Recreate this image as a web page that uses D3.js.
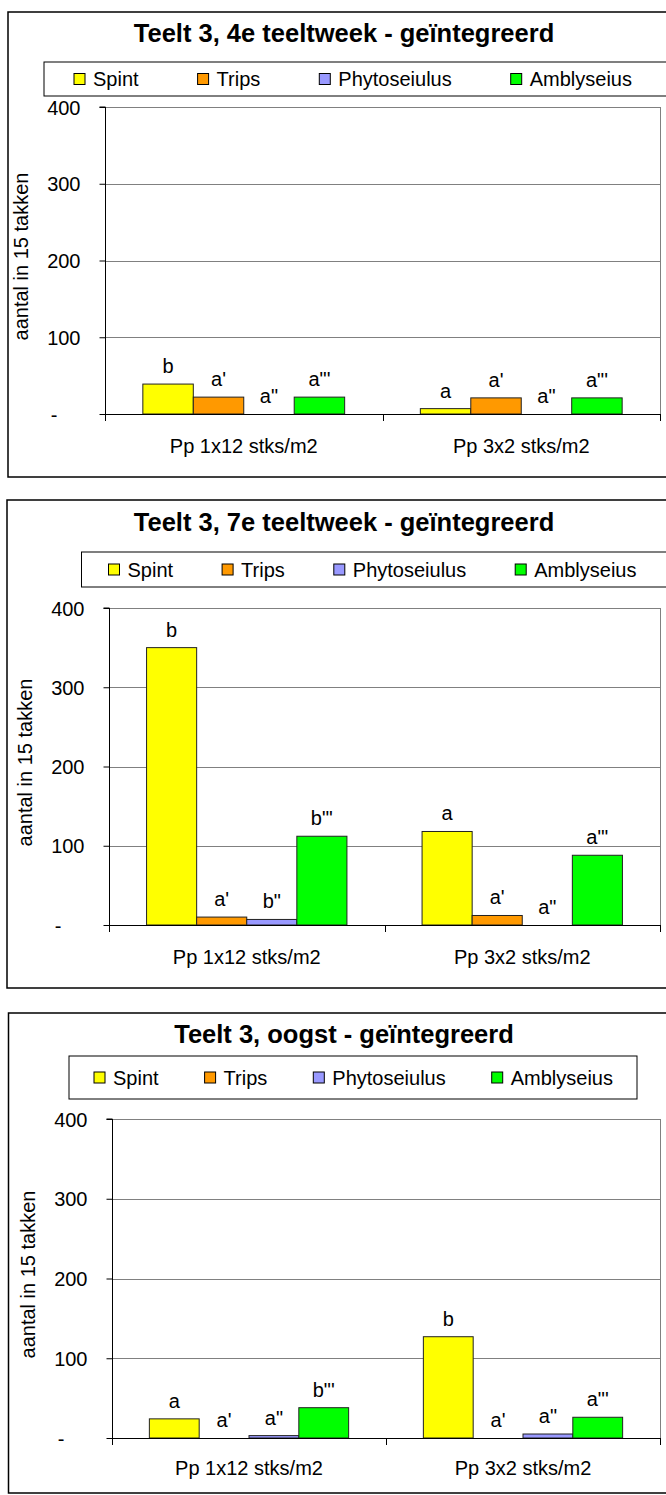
<!DOCTYPE html>
<html>
<head>
<meta charset="utf-8">
<script src="https://cdn.jsdelivr.net/npm/d3@7"></script>
<style>
  html, body { margin: 0; padding: 0; background: #fff; }
  svg { display: block; }
  text { font-family: "Liberation Sans", Arial, sans-serif; fill: #000; }
</style>
</head>
<body>
<svg id="chart" width="666" height="1495"></svg>
<script>
// ---------------- DATA ----------------
const categories = ["Pp 1x12 stks/m2", "Pp 3x2 stks/m2"];
const seriesNames = ["Spint", "Trips", "Phytoseiulus", "Amblyseius"];
const seriesColors = ["#FFFF00", "#FF9900", "#9999FF", "#00FF00"];
const titles = [
  "Teelt 3, 4e teeltweek - geïntegreerd",
  "Teelt 3, 7e teeltweek - geïntegreerd",
  "Teelt 3, oogst - geïntegreerd"
];
const yAxisTitle = "aantal in 15 takken";
const yTicks = [0, 100, 200, 300, 400];
const yTickLabels = ["-", "100", "200", "300", "400"];

// values per category: [Spint, Trips, Phytoseiulus, Amblyseius]
const week4Values = [[39, 22, 0, 22], [7, 21, 0, 21]];
const week4Labels = [["b", "a'", "a\"", "a\"'"], ["a", "a'", "a\"", "a\"'"]];
const week7Values = [[350, 10, 7, 112], [118, 12, 0, 88]];
const week7Labels = [["b", "a'", "b\"", "b\"'"], ["a", "a'", "a\"", "a\"'"]];
const harvestValues = [[24, 0, 3, 38], [127, 0, 5, 26]];
const harvestLabels = [["a", "a'", "a\"", "b\"'"], ["b", "a'", "a\"", "a\"'"]];

// ---------------- LAYOUT ----------------
const panels = [
  { title: titles[0], values: week4Values, labels: week4Labels,
    top: 12, bottom: 477, left: 8, titleY: 42,
    legend: { x: 44, y: 62, w: 700, h: 34, pad: 30, gap: 59 },
    plot: { x0: 105, x1: 660, y0: 414, y1: 107 }, catDy: 39 },
  { title: titles[1], values: week7Values, labels: week7Labels,
    top: 500, bottom: 988, left: 7, titleY: 531,
    legend: { x: 81.5, y: 552, w: 700, h: 35, pad: 27, gap: 49 },
    plot: { x0: 109, x1: 660, y0: 925, y1: 608 }, catDy: 39 },
  { title: titles[2], values: harvestValues, labels: harvestLabels,
    top: 1013, bottom: 1493, left: 8.5, titleY: 1043,
    legend: { x: 69, y: 1056, w: 568, h: 43, pad: 25, gap: 46 },
    plot: { x0: 112, x1: 660, y0: 1438, y1: 1119 }, catDy: 37 }
];

const svg = d3.select("#chart");

panels.forEach(p => {
  const g = svg.append("g");

  // chart area border
  g.append("rect")
    .attr("x", p.left).attr("y", p.top)
    .attr("width", 690 - p.left).attr("height", p.bottom - p.top)
    .attr("fill", "#fff").attr("stroke", "#000").attr("stroke-width", 1.5);

  // title
  g.append("text")
    .attr("x", 344).attr("y", p.titleY)
    .attr("text-anchor", "middle")
    .style("font-size", "25.5px").style("font-weight", "bold")
    .text(p.title);

  // legend
  const L = p.legend;
  g.append("rect")
    .attr("x", L.x).attr("y", L.y).attr("width", L.w).attr("height", L.h)
    .attr("fill", "#fff").attr("stroke", "#000").attr("stroke-width", 1);
  let lx = L.x + L.pad;
  const cy = L.y + L.h / 2;
  seriesNames.forEach((name, i) => {
    g.append("rect")
      .attr("x", lx).attr("y", cy - 5.5).attr("width", 11).attr("height", 11)
      .attr("fill", seriesColors[i]).attr("stroke", "#000").attr("stroke-width", 1);
    const t = g.append("text")
      .attr("x", lx + 19).attr("y", cy + 7)
      .style("font-size", "20px")
      .text(name);
    lx += 19 + t.node().getComputedTextLength() + L.gap;
  });

  // scales
  const P = p.plot;
  const y = d3.scaleLinear().domain([0, 400]).range([P.y0, P.y1]);
  const x = d3.scaleBand().domain(categories).range([P.x0, P.x1]).paddingInner(0).paddingOuter(0);
  const xs = d3.scaleBand().domain(seriesNames).range([0, x.bandwidth()]).paddingInner(0).paddingOuter(0.75);

  // gridlines
  g.append("g").selectAll("line").data(yTicks.filter(d => d > 0)).join("line")
    .attr("x1", P.x0).attr("x2", P.x1)
    .attr("y1", d => Math.round(y(d)) + 0.5).attr("y2", d => Math.round(y(d)) + 0.5)
    .attr("stroke", "#808080").attr("stroke-width", 1);
  // plot area right border
  g.append("line")
    .attr("x1", P.x1 + 0.5).attr("x2", P.x1 + 0.5)
    .attr("y1", P.y1).attr("y2", P.y0)
    .attr("stroke", "#808080").attr("stroke-width", 1);

  // bars
  p.values.forEach((vals, ci) => {
    const cat = categories[ci];
    const bg = g.append("g");
    bg.selectAll("rect").data(vals.map((v, si) => ({ v, si }))).join("rect")
      .filter(d => d.v > 0)
      .attr("x", d => x(cat) + xs(seriesNames[d.si]))
      .attr("y", d => y(d.v))
      .attr("width", xs.bandwidth())
      .attr("height", d => y(0) - y(d.v))
      .attr("fill", d => seriesColors[d.si])
      .attr("stroke", "#222").attr("stroke-width", 1);
    bg.selectAll("text").data(vals.map((v, si) => ({ v, si, lab: p.labels[ci][si] }))).join("text")
      .attr("x", d => x(cat) + xs(seriesNames[d.si]) + xs.bandwidth() / 2)
      .attr("y", d => y(d.v) - 11)
      .attr("text-anchor", "middle")
      .style("font-size", "20px")
      .text(d => d.lab);
  });

  // y axis
  const yAxis = d3.axisLeft(y).tickValues(yTicks)
    .tickFormat((d, i) => yTickLabels[i]).tickSize(6).tickPadding(19);
  const ya = g.append("g").attr("transform", `translate(${P.x0 + 0.5},0)`).call(yAxis);
  ya.select(".domain").attr("stroke", "#000").attr("d", `M-6,${y(400)}H0V${y(0)}`);
  ya.selectAll(".tick line").attr("stroke", "#000");
  ya.selectAll(".tick text").style("font-size", "20px").style("font-family", "Liberation Sans, Arial, sans-serif")
    .attr("fill", "#000").attr("dy", "0.35em")
    .attr("dx", d => d === 0 ? -23 : 0);

  // y axis title
  g.append("text")
    .attr("transform", `translate(${P.x0 - 77},${(P.y0 + P.y1) / 2 - 4}) rotate(-90)`)
    .attr("text-anchor", "middle")
    .style("font-size", "20px")
    .text(yAxisTitle);

  // x axis line
  g.append("line")
    .attr("x1", P.x0).attr("x2", P.x1)
    .attr("y1", Math.round(y(0)) + 0.5).attr("y2", Math.round(y(0)) + 0.5)
    .attr("stroke", "#000").attr("stroke-width", 1);
  // category boundary ticks
  const bounds = categories.map(c => x(c)).concat([x.range()[1]]);
  g.append("g").selectAll("line").data(bounds).join("line")
    .attr("x1", d => Math.round(d) + 0.5).attr("x2", d => Math.round(d) + 0.5)
    .attr("y1", y(0)).attr("y2", y(0) + 7)
    .attr("stroke", "#000");
  // category labels
  const xAxis = d3.axisBottom(x).tickSize(0).tickPadding(0);
  const xa = g.append("g").attr("transform", `translate(0,${y(0)})`).call(xAxis);
  xa.select(".domain").remove();
  xa.selectAll(".tick text").attr("y", p.catDy).attr("dy", 0)
    .style("font-size", "20px").style("font-family", "Liberation Sans, Arial, sans-serif").attr("fill", "#000");
});
</script>
</body>
</html>
